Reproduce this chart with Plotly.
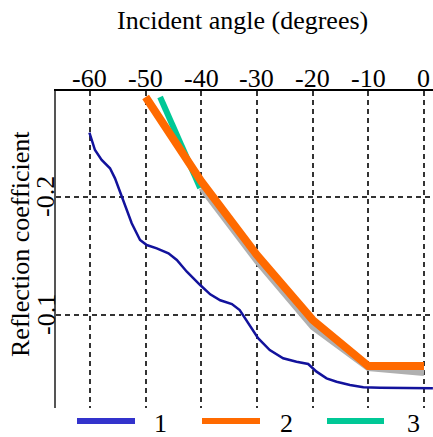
import plotly.graph_objects as go

# ---- data ----
blue_x = [-60.1, -59.1, -57.9, -56.4, -55.5, -54.6, -53.7, -52.5, -51.0, -49.8, -48.0,
          -45.9, -44.4, -42.6, -40.2, -38.4, -36.6, -34.5, -33.1, -31.3, -29.8, -27.7,
          -25.3, -22.9, -20.8, -19.3, -17.5, -15.7, -13.3, -10.9, -7.9, 1.6]
blue_y = [-0.2545, -0.2398, -0.2314, -0.2243, -0.2158, -0.2045, -0.1918, -0.1777, -0.1636,
          -0.1593, -0.1565, -0.1523, -0.1466, -0.1367, -0.1254, -0.1175, -0.1125, -0.1093,
          -0.1042, -0.0915, -0.0803, -0.0703, -0.0633, -0.0604, -0.0585, -0.0520, -0.0463,
          -0.0435, -0.0407, -0.0387, -0.0383, -0.0379]

orange_x = [-50, -40, -30, -20, -10, 0]
orange_y = [-0.2847, -0.2131, -0.1508, -0.0958, -0.0568, -0.0568]

teal_x = [-47.4, -40.2]
teal_y = [-0.2847, -0.2076]

gray_x = [-40, -30, -20, -10, 0]
gray_y = [-0.2076, -0.1455, -0.0898, -0.0551, -0.0508]

x_ticks = [-60, -50, -40, -30, -20, -10, 0]
x_ticklabels = ["-60", "-50", "-40", "-30", "-20", "-10", "0"]
y_ticks = [-0.2, -0.1]
y_ticklabels = ["-0.2", "-0.1"]
legend_labels = ["1", "2", "3"]

FONT = "Liberation Serif, Tinos, DejaVu Serif, serif"
FS = 26
C_BLUE = "#12129c"
C_BLUE_LEG = "#3333cc"
C_ORANGE = "#ff6a00"
C_TEAL = "#00c896"
C_GRAY = "#b0b0b0"

fig = go.Figure()
fig.add_trace(go.Scatter(x=blue_x, y=blue_y, mode="lines",
                         line=dict(color=C_BLUE, width=2.5), showlegend=False))
fig.add_trace(go.Scatter(x=gray_x, y=gray_y, mode="lines",
                         line=dict(color=C_GRAY, width=6), showlegend=False))
fig.add_trace(go.Scatter(x=teal_x, y=teal_y, mode="lines",
                         line=dict(color=C_TEAL, width=6), showlegend=False))
fig.add_trace(go.Scatter(x=orange_x, y=orange_y, mode="lines",
                         line=dict(color=C_ORANGE, width=8), showlegend=False))

W, H = 433, 437
ML, MT, MR, MB = 56, 91, 0, 29
PW, PH = W - ML - MR, H - MT - MB

def px(xp):
    return (xp - ML) / PW

def py(yp):
    return (H - MB - yp) / PH

shapes = []
annotations = []
txt_font = dict(family=FONT, size=FS, color="black")

# tick labels placed on the axes' own scales
for v, t in zip(x_ticks, x_ticklabels):
    annotations.append(dict(xref="x", yref="paper", x=v, y=py(78), text=t,
                            showarrow=False, xanchor="center", yanchor="middle",
                            font=txt_font))
for v, t in zip(y_ticks, y_ticklabels):
    annotations.append(dict(xref="paper", yref="y", x=px(46), y=v, text=t,
                            showarrow=False, xanchor="center", yanchor="middle",
                            textangle=-90, font=txt_font))

leg = [(77, 135, C_BLUE_LEG, 160), (202, 260, C_ORANGE, 286), (327, 384, C_TEAL, 413)]
for (x0, x1, c, lx), lab in zip(leg, legend_labels):
    shapes.append(dict(type="line", xref="paper", yref="paper", x0=px(x0), x1=px(x1),
                       y0=py(421), y1=py(421), line=dict(color=c, width=6)))
    annotations.append(dict(xref="paper", yref="paper", x=px(lx), y=py(424), text=lab,
                            showarrow=False, xanchor="center", yanchor="middle",
                            font=txt_font))

annotations.append(dict(xref="paper", yref="paper", x=px(242), y=py(20),
                        text="Incident angle (degrees)", showarrow=False,
                        xanchor="center", yanchor="middle", font=txt_font))
annotations.append(dict(xref="paper", yref="paper", x=px(20), y=py(244),
                        text="Reflection coefficient", showarrow=False, textangle=-90,
                        xanchor="center", yanchor="middle", font=txt_font))

fig.update_layout(
    width=W, height=H,
    margin=dict(l=ML, r=MR, t=MT, b=MB, pad=0),
    paper_bgcolor="white", plot_bgcolor="white",
    showlegend=False,
    shapes=shapes, annotations=annotations,
    font=dict(family=FONT, size=FS, color="black"),
)
fig.update_xaxes(
    side="top", range=[-66.1, 1.62], tickvals=x_ticks, showticklabels=False,
    showline=True, linecolor="black", linewidth=2, mirror=False,
    showgrid=True, gridcolor="#333333", gridwidth=1.5, griddash="5px,4px",
    zeroline=False, ticks="",
)
fig.update_yaxes(
    range=[-0.0212, -0.2898], tickvals=y_ticks, showticklabels=False,
    showline=True, linecolor="#555555", linewidth=2, mirror=False,
    showgrid=True, gridcolor="#333333", gridwidth=1.5, griddash="5px,4px",
    zeroline=False, ticks="",
)

fig.write_html(
    "out.html",
    config={"displayModeBar": False},
    post_script="document.body.style.margin='0';document.body.style.overflow='hidden';",
)
